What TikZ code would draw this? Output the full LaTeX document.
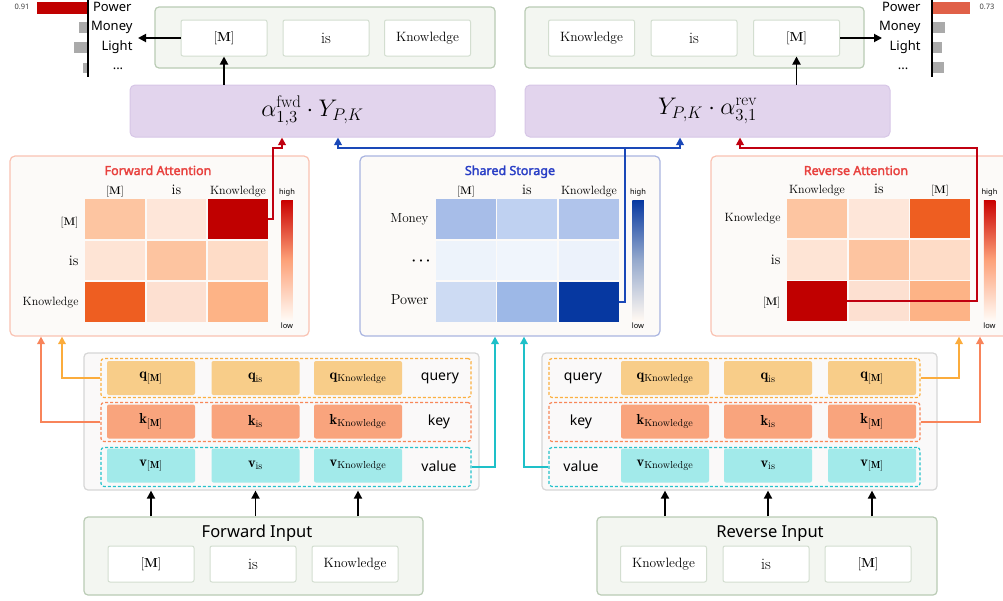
\RequirePackage{fix-cm}
\documentclass[tikz,border=0pt]{standalone}
\usepackage{fontspec}
\newfontfamily\sansf[AutoFakeBold=2.2]{Noto Sans}
\usetikzlibrary{arrows.meta}
\newcommand\fsz[1]{\fontsize{#1}{#1}\selectfont}
% panel colours
\definecolor{gfill}{HTML}{F3F6F1}
\definecolor{gborder}{HTML}{B9CBB4}
\definecolor{tborder}{HTML}{D3DED0}
\definecolor{pfill}{HTML}{E2D4ED}
\definecolor{pborder}{HTML}{D6C6E6}
\definecolor{hfill}{HTML}{FCFAF8}
\definecolor{hredborder}{HTML}{F9C2B2}
\definecolor{hblueborder}{HTML}{A9B4E0}
\definecolor{kfill}{HTML}{FAF9F9}
\definecolor{kborder}{HTML}{D6D6D6}
\definecolor{fwdtitle}{HTML}{E8413E}
\definecolor{sharedtitle}{HTML}{2A3FC6}
\definecolor{barred}{HTML}{C00000}
\definecolor{barorange}{HTML}{E06048}
\definecolor{bargray}{HTML}{AAAAAA}
% cells
\definecolor{cf11}{HTML}{FDC5A1}\definecolor{cf12}{HTML}{FEE6D9}\definecolor{cf13}{HTML}{C00000}
\definecolor{cf21}{HTML}{FEE4D5}\definecolor{cf22}{HTML}{FDC4A0}\definecolor{cf23}{HTML}{FEDCC7}
\definecolor{cf31}{HTML}{EE5E21}\definecolor{cf32}{HTML}{FDE0D1}\definecolor{cf33}{HTML}{FDB386}
\definecolor{cr11}{HTML}{FDC5A1}\definecolor{cr12}{HTML}{FEE6D9}\definecolor{cr13}{HTML}{EE5E21}
\definecolor{cr21}{HTML}{FEE4D5}\definecolor{cr22}{HTML}{FDC4A0}\definecolor{cr23}{HTML}{FEDCC7}
\definecolor{cr31}{HTML}{C00000}\definecolor{cr32}{HTML}{FDE0D1}\definecolor{cr33}{HTML}{FDB386}
\definecolor{cs11}{HTML}{A7BDE8}\definecolor{cs12}{HTML}{BFD1F1}\definecolor{cs13}{HTML}{B0C4EB}
\definecolor{cs21}{HTML}{EDF3FB}\definecolor{cs22}{HTML}{F0F5FC}\definecolor{cs23}{HTML}{ECF2FB}
\definecolor{cs31}{HTML}{CDDBF3}\definecolor{cs32}{HTML}{9DB8E7}\definecolor{cs33}{HTML}{0638A1}
% qkv
\definecolor{qfill}{HTML}{F8CD89}
\definecolor{kcfill}{HTML}{F9A47D}
\definecolor{vfill}{HTML}{A2EAEA}
\definecolor{qdash}{HTML}{FBB040}
\definecolor{kdash}{HTML}{F88758}
\definecolor{vdash}{HTML}{26C2CB}
% connectors
\definecolor{corange}{HTML}{FBAC3C}
\definecolor{ccoral}{HTML}{F8845A}
\definecolor{ccyan}{HTML}{1EC0C8}
\definecolor{cblue}{HTML}{1A48B8}
\definecolor{cred}{HTML}{C00010}
\begin{document}
\begin{tikzpicture}[x=1pt,y=-1pt,
  gpanel/.style={draw=gborder,fill=gfill,rounded corners=4pt,line width=1.2pt,inner sep=0pt},
  tok/.style={draw=tborder,fill=white,rounded corners=2pt,line width=1pt,minimum width=86pt,minimum height=36pt,inner sep=0pt},
  pbox/.style={draw=pborder,fill=pfill,rounded corners=5pt,line width=1pt,minimum width=365pt,minimum height=52pt,inner sep=0pt,font=\fsz{24}},
  hpanel/.style={fill=hfill,rounded corners=5pt,line width=1.2pt,minimum width=299pt,minimum height=180pt,inner sep=0pt},
  cell/.style={minimum width=59.5pt,minimum height=39.5pt,inner sep=0pt},
  cbar/.style={minimum width=11.5pt,minimum height=120pt,inner sep=0pt},
  htitle/.style={font=\sansf\bfseries\fsz{12.5},anchor=base},
  tiny/.style={font=\sansf\fsz{7.5},text=black!75},
  lab/.style={font=\sansf\fsz{13}},
  qkvpanel/.style={draw=kborder,fill=kfill,rounded corners=4pt,line width=1.2pt,minimum width=395pt,minimum height=137pt,inner sep=0pt},
  grp/.style={line width=1.2pt,dash pattern=on 3pt off 2pt,rounded corners=3pt,minimum width=370pt,minimum height=39pt,inner sep=0pt},
  qcell/.style={rounded corners=2pt,minimum width=88pt,minimum height=34pt,inner sep=0pt,font=\fsz{14.5}},
  qkvlab/.style={font=\sansf\fsz{14}},
  blk/.style={line width=1.8pt,-{Triangle[length=8pt,width=8pt]}},
  conn/.style={line width=1.8pt,-{Triangle[length=7.5pt,width=7.5pt]}},
  cK/.style={font=\fsz{12}},
  cI/.style={font=\fsz{14.5}},
  cM/.style={font=\fsz{11}}
]
\useasboundingbox (0,0) rectangle (1003,600);

% ---------- top output boxes ----------
\node[gpanel,minimum width=340pt,minimum height=61pt] (outL) at (325,37.5) {};
\node[tok,font=\fsz{13}] (tL1) at (224,38) {[\textbf{M}]};
\node[tok,font=\fsz{16}] (tL2) at (326,38) {is};
\node[tok,font=\fsz{13.5}] (tL3) at (427.5,38) {Knowledge};
\node[gpanel,minimum width=339pt,minimum height=61pt] (outR) at (694.5,37.5) {};
\node[tok,font=\fsz{13.5}] (tR1) at (591.5,38) {Knowledge};
\node[tok,font=\fsz{16}] (tR2) at (694,38) {is};
\node[tok,font=\fsz{13}] (tR3) at (796.5,38) {[\textbf{M}]};

% ---------- bar charts ----------
\fill[barred] (37,2) rectangle (88,14);
\fill[bargray] (79,22) rectangle (88,33);
\fill[bargray] (74,42) rectangle (88,53);
\fill[bargray] (83,63) rectangle (88,73);
\draw[line width=1.3pt] (88,0) -- (88,77);
\node[tiny] (v91) at (22,7) {0.91};
\node[lab,anchor=east] (lpw) at (135,7) {Power};
\node[lab,anchor=east] (lmo) at (136,27) {Money};
\node[lab,anchor=east] (lli) at (136,47) {Light};
\node[lab] (ldo) at (118,69) {...};

\fill[barorange] (932,2) rectangle (970,14);
\fill[bargray] (932,22) rectangle (945,33);
\fill[bargray] (932,42) rectangle (942,53);
\fill[bargray] (932,62) rectangle (944,73);
\draw[line width=1.3pt] (932,0) -- (932,77);
\node[tiny] (v73) at (987,7) {0.73};
\node[lab,anchor=east] (rpw) at (924,7) {Power};
\node[lab,anchor=east] (rmo) at (924,27) {Money};
\node[lab,anchor=east] (rli) at (924,47) {Light};
\node[lab] (rdo) at (903,69) {...};

\coordinate (aL) at (138,38);
\coordinate (aR) at (882,38);
\draw[blk] (tL1.west) -- (aL);
\draw[blk] (tR3.east) -- (aR);

% ---------- purple formula boxes ----------
\node[pbox] (pL) at (312.5,111) {$\alpha^{\mathrm{fwd}}_{1,3}\cdot Y_{P,K}$};
\node[pbox] (pR) at (707.5,111) {$Y_{P,K}\cdot\alpha^{\mathrm{rev}}_{3,1}$};
\draw[blk] (pL.north -| tL1) -- (tL1.south);
\draw[blk] (pR.north -| tR3) -- (tR3.south);

% ---------- heat map panels ----------
\node[hpanel,draw=hredborder] (fpanel) at (159.5,246) {};
\node[hpanel,draw=hblueborder,minimum width=300pt] (spanel) at (510,246) {};
\node[hpanel,draw=hredborder] (rpanel) at (860.5,246) {};

\node[htitle,text=fwdtitle] (ftitle) at (158,175) {Forward Attention};
\node[htitle,text=sharedtitle] (stitle) at (510,175) {Shared Storage};
\node[htitle,text=fwdtitle] (rtitle) at (856,175) {Reverse Attention};

% forward cells
\foreach \r/\y in {1/219,2/260.5,3/302}{
  \foreach \c/\x in {1/115,2/176.5,3/238}{
    \node[cell,fill=cf\r\c] (f\r\c) at (\x,\y) {};
  }
}
% shared cells
\foreach \r/\y in {1/219,2/260.5,3/302}{
  \foreach \c/\x in {1/466,2/527,3/589}{
    \node[cell,fill=cs\r\c] (s\r\c) at (\x,\y) {};
  }
}
% reverse cells
\foreach \r/\y in {1/218.5,2/260,3/301}{
  \foreach \c/\x in {1/817,2/879,3/940}{
    \node[cell,fill=cr\r\c] (r\r\c) at (\x,\y) {};
  }
}

% forward labels
\node[cM,anchor=base] (fc1) at (115,194) {[\textbf{M}]};
\node[cI,anchor=base] (fc2) at (176.5,194) {is};
\node[cK,anchor=base] (fc3) at (238,194) {Knowledge};
\node[cM,anchor=base east] (fr1) at (82,225) {[\textbf{M}]};
\node[cI,anchor=base east] (fr2) at (82,265) {is};
\node[cK,anchor=base east] (fr3) at (82,305) {Knowledge};
% shared labels
\node[cM,anchor=base] (sc1) at (466,194) {[\textbf{M}]};
\node[cI,anchor=base] (sc2) at (527,194) {is};
\node[cK,anchor=base] (sc3) at (589,194) {Knowledge};
\node[font=\fsz{13.2},anchor=base east] (sr1) at (432,222) {Money};
\node[font=\fsz{14}\boldmath,anchor=east] (sr2) at (434,261) {$\cdots$};
\node[font=\fsz{14.5},anchor=base east] (sr3) at (432,304) {Power};
% reverse labels
\node[cK,anchor=base] (rc1) at (817,193) {Knowledge};
\node[cI,anchor=base] (rc2) at (879,193) {is};
\node[cM,anchor=base] (rc3) at (940,193) {[\textbf{M}]};
\node[cK,anchor=base east] (rr1) at (784,221) {Knowledge};
\node[cI,anchor=base east] (rr2) at (784,264) {is};
\node[cM,anchor=base east] (rr3) at (784,305) {[\textbf{M}]};

% colour bars
\node[cbar,top color=cf13!85!red,bottom color=white!96!orange,middle color=cf33!90!red] (fbar) at (287,260) {};
\node[tiny,text=black] (fhi) at (287,193) {high};
\node[tiny,text=black] (flo) at (287,326) {low};
\node[cbar,top color=cs33,bottom color=white!95!orange,middle color=cs32!75!gray] (sbar) at (638,260) {};
\node[tiny,text=black] (shi) at (638,193) {high};
\node[tiny,text=black] (slo) at (638,326) {low};
\node[cbar,top color=cf13!85!red,bottom color=white!96!orange,middle color=cf33!90!red] (rbar) at (989.5,260) {};
\node[tiny,text=black] (rhi) at (989.5,193) {high};
\node[tiny,text=black] (rlo) at (989.5,326) {low};

% ---------- connectors heat maps -> formulas ----------
\coordinate (rlj) at (273,148);
\coordinate (rlx) at (282,148);
\draw[conn,cred] (f13.east) -| (rlj) -| (rlx |- pL.south);
\coordinate (bj) at (625,148);
\coordinate (bl) at (338,148);
\coordinate (br) at (680,148);
\draw[conn,cblue] (s33.east) -| (bj) -| (bl |- pL.south);
\draw[conn,cblue] (bj) -| (br |- pR.south);
\coordinate (rrj) at (977,148);
\coordinate (rrx) at (740,148);
\draw[conn,cred] (r31.east) -| (rrj) -| (rrx |- pR.south);

% ---------- qkv panels ----------
\node[qkvpanel] (qkvL) at (281.5,421.5) {};
\node[qkvpanel] (qkvR) at (739.5,421.5) {};
\node[grp,draw=qdash] (gqL) at (286,378) {};
\node[grp,draw=kdash] (gkL) at (286,422) {};
\node[grp,draw=vdash] (gvL) at (286,467) {};
\node[grp,draw=qdash,minimum width=371pt] (gqR) at (734.5,378) {};
\node[grp,draw=kdash,minimum width=371pt] (gkR) at (734.5,422) {};
\node[grp,draw=vdash,minimum width=371pt] (gvR) at (734.5,467) {};

\node[qcell,fill=qfill] (qL1) at (151,378) {$\mathbf{q}_{[\mathbf{M}]}$};
\node[qcell,fill=qfill] (qL2) at (255.5,378) {$\mathbf{q}_{\mathrm{is}}$};
\node[qcell,fill=qfill] (qL3) at (358,378) {$\mathbf{q}_{\mathrm{Knowledge}}$};
\node[qcell,fill=kcfill] (kL1) at (151,421.5) {$\mathbf{k}_{[\mathbf{M}]}$};
\node[qcell,fill=kcfill] (kL2) at (255.5,421.5) {$\mathbf{k}_{\mathrm{is}}$};
\node[qcell,fill=kcfill] (kL3) at (358,421.5) {$\mathbf{k}_{\mathrm{Knowledge}}$};
\node[qcell,fill=vfill] (vL1) at (151,465.5) {$\mathbf{v}_{[\mathbf{M}]}$};
\node[qcell,fill=vfill] (vL2) at (255.5,465.5) {$\mathbf{v}_{\mathrm{is}}$};
\node[qcell,fill=vfill] (vL3) at (358,465.5) {$\mathbf{v}_{\mathrm{Knowledge}}$};
\node[qkvlab] (lqL) at (440,378) {query};
\node[qkvlab] (lkL) at (439,422) {key};
\node[qkvlab] (lvL) at (439,466) {value};

\node[qcell,fill=qfill] (qR1) at (665,378) {$\mathbf{q}_{\mathrm{Knowledge}}$};
\node[qcell,fill=qfill] (qR2) at (768,378) {$\mathbf{q}_{\mathrm{is}}$};
\node[qcell,fill=qfill] (qR3) at (872,378) {$\mathbf{q}_{[\mathbf{M}]}$};
\node[qcell,fill=kcfill] (kR1) at (665,421.5) {$\mathbf{k}_{\mathrm{Knowledge}}$};
\node[qcell,fill=kcfill] (kR2) at (768,421.5) {$\mathbf{k}_{\mathrm{is}}$};
\node[qcell,fill=kcfill] (kR3) at (872,421.5) {$\mathbf{k}_{[\mathbf{M}]}$};
\node[qcell,fill=vfill] (vR1) at (665,465.5) {$\mathbf{v}_{\mathrm{Knowledge}}$};
\node[qcell,fill=vfill] (vR2) at (768,465.5) {$\mathbf{v}_{\mathrm{is}}$};
\node[qcell,fill=vfill] (vR3) at (872,465.5) {$\mathbf{v}_{[\mathbf{M}]}$};
\node[qkvlab] (lqR) at (583,378) {query};
\node[qkvlab] (lkR) at (581,422) {key};
\node[qkvlab] (lvR) at (581,466) {value};

% ---------- connectors qkv -> heat maps ----------
\coordinate (oLx) at (62,0);
\coordinate (cLx) at (41,0);
\coordinate (oRx) at (959,0);
\coordinate (cRx) at (980,0);
\coordinate (vLx) at (495,0);
\coordinate (vRx) at (524,0);
\draw[conn,corange] (gqL.west) -| (oLx |- fpanel.south);
\draw[conn,ccoral] (gkL.west) -| (cLx |- fpanel.south);
\draw[conn,corange] (gqR.east) -| (oRx |- rpanel.south);
\draw[conn,ccoral] (gkR.east) -| (cRx |- rpanel.south);
\draw[conn,ccyan] (gvL.east) -| (vLx |- spanel.south);
\draw[conn,ccyan] (gvR.west) -| (vRx |- spanel.south);

% ---------- inputs ----------
\node[gpanel,minimum width=339pt,minimum height=78pt] (fin) at (253.5,556) {};
\node[font=\sansf\fsz{16.5},anchor=base] (fint) at (257,537) {Forward Input};
\node[tok,font=\fsz{13}] (fi1) at (151,564) {[\textbf{M}]};
\node[tok,font=\fsz{16}] (fi2) at (253,564) {is};
\node[tok,font=\fsz{13.5}] (fi3) at (355,564) {Knowledge};
\node[gpanel,minimum width=340pt,minimum height=78pt] (rin) at (767,556) {};
\node[font=\sansf\fsz{16.5},anchor=base] (rint) at (770,537) {Reverse Input};
\node[tok,font=\fsz{13.5}] (ri1) at (663.5,564) {Knowledge};
\node[tok,font=\fsz{16}] (ri2) at (766,564) {is};
\node[tok,font=\fsz{13}] (ri3) at (868,564) {[\textbf{M}]};

\draw[blk] (fin.north -| qL1) -- (qkvL.south -| qL1);
\draw[blk] (fin.north -| qL2) -- (qkvL.south -| qL2);
\draw[blk] (fin.north -| qL3) -- (qkvL.south -| qL3);
\draw[blk] (rin.north -| qR1) -- (qkvR.south -| qR1);
\draw[blk] (rin.north -| qR2) -- (qkvR.south -| qR2);
\draw[blk] (rin.north -| qR3) -- (qkvR.south -| qR3);
\end{tikzpicture}
\end{document}
